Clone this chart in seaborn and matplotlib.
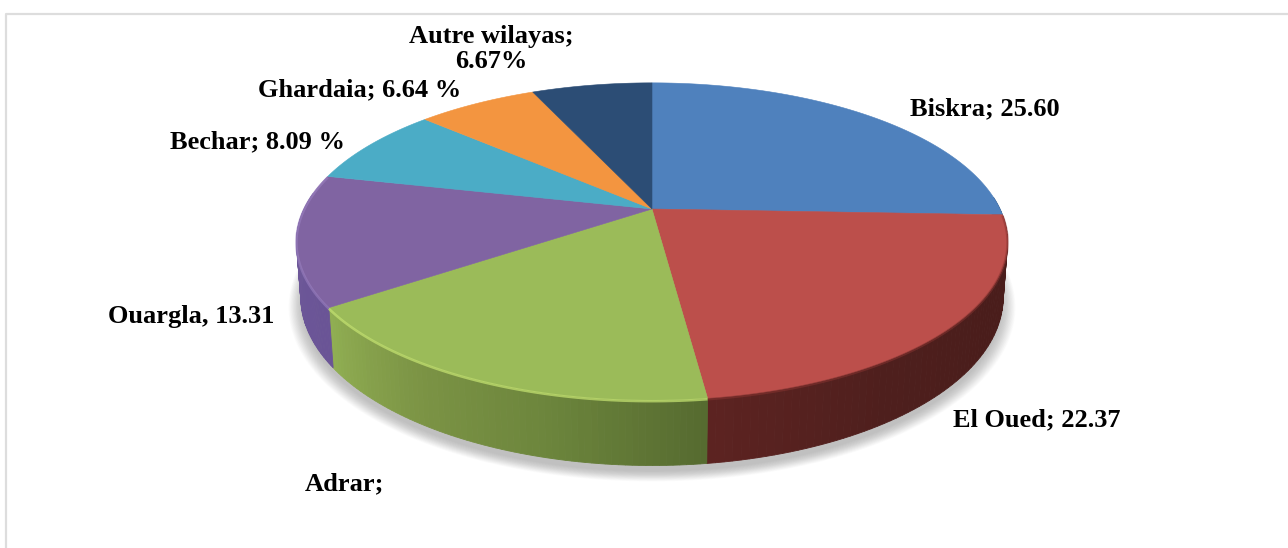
import numpy as np
import matplotlib.pyplot as plt
import seaborn as sns

# data (Adrar has no number printed on the chart, it is the remainder of the 100 %)
names = ["Biskra", "El Oued", "Adrar", "Ouargla", "Bechar", "Ghardaia", "Autre wilayas"]
values = [25.60, 22.37, 17.32, 13.31, 8.09, 6.64, 6.67]
top_colors = ["#4f81bd", "#bc4f4b", "#9bbb59", "#8064a2", "#4bacc6", "#f39540", "#2c4d75"]
# side colours run clockwise, so from the right of the disc to the left along the front
side_colors = [
    ["#2f4d71", "#2f4d71"],
    ["#4a1d1b", "#4a1d1b", "#4e1f1d", "#5c2321"],
    ["#566b30", "#6c853c", "#7c9445", "#90ae52"],
    ["#6a5496", "#6f5a9a"],
    ["#2d6777", "#2d6777"],
    ["#945a2a", "#945a2a"],
    ["#1a2e46", "#1a2e46"],
]
rim_colors = ["#4f81bd", "#8a3431", "#c2e070", "#9a80c0", "#4bacc6", "#f39540", "#2c4d75"]
labels = ["Biskra; 25.60", "El Oued; 22.37", "Adrar;", "Ouargla, 13.31",
          "Bechar; 8.09 %", "Ghardaia; 6.64 %", "Autre wilayas;\n6.67%"]
label_x = [985, 1037, 344, 191, 258, 360, 491]
label_y = [109, 420, 484, 316, 142, 90, 49]

sns.set_theme(style="white")
plt.rcParams["font.family"] = ["Liberation Serif", "DejaVu Serif"]

cx, cy = 652, 209
rx, ry, k = 348, 152, 0.205
depth = 55


def project(ang, r=1.0, lower=False):
    # angle is clockwise from 12 o'clock, the far side of the disc is drawn smaller
    x = r * np.sin(ang)
    y = r * np.cos(ang)
    w = 1 + k * y
    if lower:
        w = w + 0.012
        return cx + rx * x / w, cy - ry * y / w + depth / w
    return cx + rx * x / w, cy - ry * y / w


fig = plt.figure(figsize=(12.88, 5.48), dpi=100)
ax = fig.add_axes([0, 0, 1, 1])
ax.set_xlim(0, 1288)
ax.set_ylim(548, 0)
ax.axis("off")

# chart frame, only top and left are inside the picture
ax.plot([6.5, 6.5, 1288], [548, 13.5, 13.5], color="#dddddd", lw=1.6)

# soft shadow under the disc
full = np.linspace(0, 2 * np.pi, 400)
sx, sy = project(full, lower=True)
for grow in np.linspace(1.035, 0.995, 24):
    ax.fill(cx + (sx - cx) * grow, cy + 7 + (sy - cy) * grow, color="#555555", alpha=0.016, lw=0)

edges = np.cumsum([0] + values) / sum(values) * 2 * np.pi

# side wall, split in small strips so the shading can run along it
for i in range(len(values)):
    a = np.linspace(edges[i], edges[i + 1], 70)
    shades = sns.blend_palette(side_colors[i], len(a) - 1)
    for j in range(len(a) - 1):
        if np.cos(a[j]) > 0.1:
            continue
        x1, y1 = project(a[j:j + 2])
        x2, y2 = project(a[j:j + 2], lower=True)
        ax.fill(np.r_[x1, x2[::-1]], np.r_[y1, y2[::-1]], color=shades[j], lw=0.6)

# top face
for i in range(len(values)):
    a = np.linspace(edges[i], edges[i + 1], 120)
    x, y = project(a)
    ax.fill(np.r_[cx, x], np.r_[cy, y], color=top_colors[i], lw=0.4)

# bevel along the front rim
for i, alpha in zip([1, 2, 3], [0.5, 0.75, 0.6]):
    a = np.linspace(edges[i], edges[i + 1], 120)
    x, y = project(a)
    ax.plot(x, y + 1, color=rim_colors[i], lw=1.8, alpha=alpha, solid_capstyle="butt")

for txt, lx, ly in zip(labels, label_x, label_y):
    ax.text(lx, ly, txt, ha="center", va="center", fontsize=19, fontweight="bold",
            color="black", linespacing=1.15)

fig.savefig("out.png", dpi=100)
